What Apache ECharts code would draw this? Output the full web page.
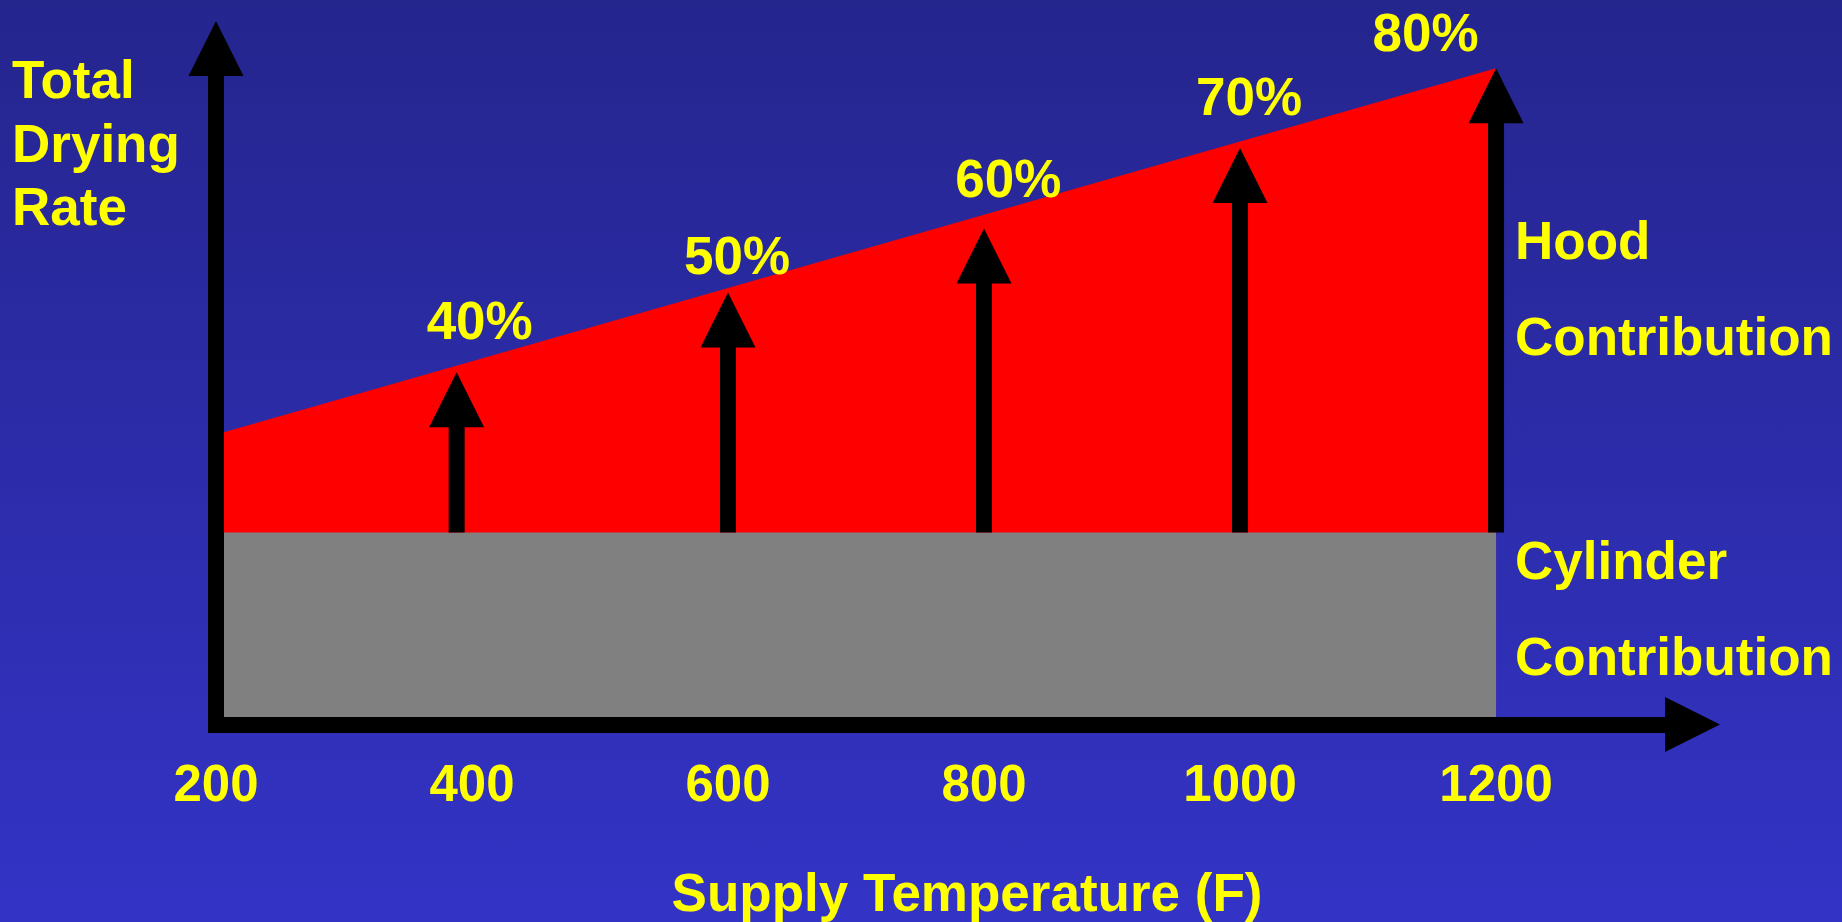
<!DOCTYPE html>
<html>
<head>
<meta charset="utf-8">
<title>Total Drying Rate vs Supply Temperature</title>
<script src="https://cdn.jsdelivr.net/npm/echarts@6/dist/echarts.min.js"></script>
<style>
html, body {
    margin: 0;
    padding: 0;
}
body {
    background: linear-gradient(to bottom, #25258e, #3333c6);
}
#main {
    width: 1842px;
    height: 922px;
}
</style>
</head>
<body>
<div id="main"></div>
<script>
// tick labels on the temperature axis
const xTicks = [200, 400, 600, 800, 1000, 1200];

// the two areas (start and end of the temperature range)
const rangeTemps = [200, 1200];
const cylinderRate = [29.6, 29.6];
const totalRate = [44.7, 101.2];

// hood contribution arrows
const arrowTemps = [388, 600, 800, 1000, 1200];
const arrowTops = [54.3, 66.6, 76.5, 88.9, 101.2];

// percentage labels above the red area
const hoodShare = ['40%', '50%', '60%', '70%', '80%'];
const shareLabelTemps = [406, 607, 819, 1007, 1145];
const shareLabelRates = [61.7, 71.7, 83.6, 96.3, 106.1];

const YELLOW = '#ffff00';
const FONT = '"Liberation Sans", Arial, sans-serif';
const SHAFT = 16;
const HEAD = 55;

var chartDom = document.getElementById('main');
var myChart = echarts.init(chartDom);
var option;

option = {
    animation: false,
    backgroundColor: 'transparent',
    grid: {
        left: 216,
        right: 177,
        top: 76,
        bottom: 197.5,
        containLabel: false,
        outerBoundsMode: 'none'
    },
    xAxis: {
        type: 'value',
        min: 200,
        max: 1332,
        interval: 200,
        z: 5,
        splitLine: { show: false },
        axisTick: { show: false },
        axisLine: {
            show: true,
            symbol: ['none', 'triangle'],
            symbolSize: [HEAD, HEAD],
            symbolOffset: [0, HEAD / 2],
            lineStyle: { color: '#000', width: 16, cap: 'square' }
        },
        axisLabel: {
            customValues: xTicks,
            formatter: v => String(v),
            margin: 37,
            color: YELLOW,
            fontSize: 51,
            fontWeight: 'bold',
            fontFamily: FONT
        }
    },
    yAxis: {
        type: 'value',
        min: 0,
        max: 100,
        z: 5,
        splitLine: { show: false },
        axisTick: { show: false },
        axisLabel: { show: false },
        axisLine: {
            show: true,
            symbol: ['none', 'triangle'],
            symbolSize: [HEAD, HEAD],
            symbolOffset: [0, HEAD / 2],
            lineStyle: { color: '#000', width: 16, cap: 'square' }
        }
    },
    graphic: [
        {
            type: 'text', x: 12, y: 147,
            style: { text: 'Total\nDrying\nRate', fill: YELLOW, font: 'bold 53px ' + FONT, lineHeight: 63.5, align: 'left', verticalAlign: 'middle' }
        },
        {
            type: 'text', x: 1515, y: 292,
            style: { text: 'Hood\nContribution', fill: YELLOW, font: 'bold 53px ' + FONT, lineHeight: 96, align: 'left', verticalAlign: 'middle' }
        },
        {
            type: 'text', x: 1515, y: 612,
            style: { text: 'Cylinder\nContribution', fill: YELLOW, font: 'bold 53px ' + FONT, lineHeight: 96, align: 'left', verticalAlign: 'middle' }
        },
        {
            type: 'text', x: 967, y: 896,
            style: { text: 'Supply Temperature (F)', fill: YELLOW, font: 'bold 53px ' + FONT, align: 'center', verticalAlign: 'middle' }
        }
    ],
    series: [
        {
            name: 'Hood',
            type: 'line',
            z: 1,
            clip: false,
            symbol: 'none',
            lineStyle: { width: 0, opacity: 0 },
            areaStyle: { color: '#ff0000', opacity: 1 },
            data: rangeTemps.map((t, i) => [t, totalRate[i]])
        },
        {
            name: 'Cylinder',
            type: 'line',
            z: 2,
            clip: false,
            symbol: 'none',
            lineStyle: { width: 0, opacity: 0 },
            areaStyle: { color: '#808080', opacity: 1 },
            data: rangeTemps.map((t, i) => [t, cylinderRate[i]])
        },
        {
            name: 'Arrows',
            type: 'custom',
            z: 6,
            clip: false,
            encode: { x: 0, y: [1, 2] },
            data: arrowTemps.map((t, i) => [t, cylinderRate[0], arrowTops[i]]),
            renderItem: function (params, api) {
                const x = api.value(0);
                const bottom = api.coord([x, api.value(1)]);
                const tip = api.coord([x, api.value(2)]);
                const headBase = tip[1] + HEAD;
                return {
                    type: 'group',
                    children: [
                        {
                            type: 'rect',
                            shape: { x: bottom[0] - SHAFT / 2, y: headBase - 1, width: SHAFT, height: bottom[1] - headBase + 1 },
                            style: { fill: '#000' }
                        },
                        {
                            type: 'polygon',
                            shape: { points: [[tip[0] - HEAD / 2, headBase], [tip[0] + HEAD / 2, headBase], [tip[0], tip[1]]] },
                            style: { fill: '#000' }
                        }
                    ]
                };
            }
        },
        {
            name: 'Share',
            type: 'custom',
            z: 7,
            clip: false,
            encode: { x: 0, y: 1 },
            data: hoodShare.map((s, i) => [shareLabelTemps[i], shareLabelRates[i]]),
            renderItem: function (params, api) {
                const p = api.coord([api.value(0), api.value(1)]);
                return {
                    type: 'text',
                    x: p[0],
                    y: p[1],
                    style: {
                        text: hoodShare[params.dataIndex],
                        fill: YELLOW,
                        font: 'bold 53px ' + FONT,
                        align: 'center',
                        verticalAlign: 'middle'
                    }
                };
            }
        }
    ]
};

option && myChart.setOption(option);
</script>
</body>
</html>
